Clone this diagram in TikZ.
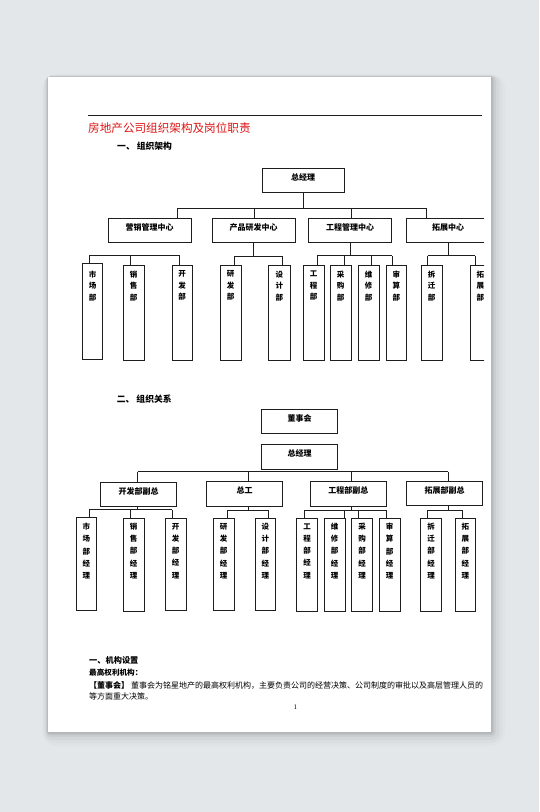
\documentclass[tikz,border=0pt]{standalone}
\usepackage{fontspec}
\setmainfont{Liberation Serif}
\newfontfamily\cjk{Noto Sans CJK SC}
\usetikzlibrary{calc}
\definecolor{bgc}{RGB}{228,231,234}
\definecolor{ttl}{RGB}{222,20,20}
\definecolor{ln}{RGB}{30,30,30}
\tikzset{
  box/.style={draw=ln, line width=0.8pt, inner sep=0pt, fill=white},
  lbl/.style={font=\cjk\bfseries\fontsize{8}{9}\selectfont, inner sep=0pt},
  vlbl/.style={font=\cjk\bfseries\fontsize{7.5}{11.5}\selectfont, align=center, inner sep=0pt},
  vlblb/.style={font=\cjk\bfseries\fontsize{7.5}{12.2}\selectfont, align=center, inner sep=0pt},
  conn/.style={draw=ln, line width=0.8pt},
  para/.style={anchor=west, inner sep=0pt, font=\cjk\fontsize{8}{9}\selectfont},
}
\newcommand\mkbox[5]{\node[box, minimum width={(#4-#2)*1pt}, minimum height={(#5-#3)*1pt}] (#1) at ({(#2+#4)/2},{(#3+#5)/2}) {};}
\newcommand\vdown[2]{\draw[conn] (#1) -- (#1 |- #2.north);}
\begin{document}
\begin{tikzpicture}[x=1pt,y=-1pt]
\useasboundingbox (0,0) rectangle (539,812);
\fill[bgc] (0,0) rectangle (539,812);
% page shadow
\foreach \s/\o in {14/0.015,11/0.02,8/0.03,5/0.04,3/0.05,1.5/0.06}{
  \fill[black, opacity=\o, rounded corners=\s] ({48-\s*0.4},{77-\s*0.2}) rectangle ({491+\s},{732+\s});
}
\fill[white] (48,77) rectangle (491,732);
\begin{scope}
\clip (48,77) rectangle (484,732);
% header
\draw[ln, line width=0.8pt] (88,115.7) -- (482,115.7);
\node[anchor=west, inner sep=0pt, text=ttl, font=\cjk\fontsize{11.6}{12}\selectfont] (title) at (88,128.5) {房地产公司组织架构及岗位职责};
\node[anchor=west, inner sep=0pt, font=\cjk\bfseries\fontsize{8.8}{10}\selectfont] (sec1) at (117,146) {一、\hspace{2pt}组织架构};

% ---------- section 1 ----------
\mkbox{zjlA}{262}{168.3}{344.3}{192.3}
\node[lbl] at ([yshift=3pt]zjlA.center) {总经理};
\mkbox{yx}{108.3}{218.3}{191}{242.3}
\mkbox{cp}{212.3}{218.3}{295}{242.3}
\mkbox{gc}{308.7}{218.3}{391.7}{242.3}
\mkbox{tz}{406.7}{218.3}{489.7}{242.3}
\node[lbl] at ([yshift=3pt]yx.center) {营销管理中心};
\node[lbl] at ([yshift=3pt]cp.center) {产品研发中心};
\node[lbl] at ([yshift=3pt]gc.center) {工程管理中心};
\node[lbl] at ([yshift=3pt]tz.center) {拓展中心};

\coordinate (a1) at (177.7,208.3);
\coordinate (a2) at (254.3,208.3);
\coordinate (a3) at (351.7,208.3);
\coordinate (a4) at (426.7,208.3);
\draw[conn] (zjlA.south) -- (zjlA.south |- a1);
\draw[conn] (a1) -- (a4);
\vdown{a1}{yx}
\vdown{a2}{cp}
\vdown{a3}{gc}
\vdown{a4}{tz}

\mkbox{scb}{82.3}{263.3}{102.7}{359.5}
\mkbox{xsb}{123.3}{265}{144}{360}
\mkbox{kfb}{172}{265}{192.3}{360}
\mkbox{yfb}{220}{265}{241.3}{360}
\mkbox{sjb}{268.7}{265}{290}{360}
\mkbox{gcb}{303.3}{265}{324}{360}
\mkbox{cgb}{330.3}{265}{351}{360}
\mkbox{wxb}{358}{265}{379}{360}
\mkbox{ssb}{386}{265}{406.7}{360}
\mkbox{cqb}{421}{265}{442.3}{360}
\mkbox{tzb}{470}{265}{490.5}{360}
\coordinate (ty1) at (0,285.8);
\node[vlbl] at (scb.center |- ty1) {市\\场\\部};
\node[vlbl] at (xsb.center |- ty1) {销\\售\\部};
\node[vlbl] at (kfb.center |- ty1) {开\\发\\部};
\node[vlbl] at (yfb.center |- ty1) {研\\发\\部};
\node[vlbl] at (sjb.center |- ty1) {设\\计\\部};
\node[vlbl] at (gcb.center |- ty1) {工\\程\\部};
\node[vlbl] at (cgb.center |- ty1) {采\\购\\部};
\node[vlbl] at (wxb.center |- ty1) {维\\修\\部};
\node[vlbl] at (ssb.center |- ty1) {审\\算\\部};
\node[vlbl] at (cqb.center |- ty1) {拆\\迁\\部};
\node[vlbl] at (tzb.center |- ty1) {拓\\展\\部};

% group 1 (no link from 营销管理中心)
\coordinate (b1) at (89,255);
\coordinate (b2) at (130.3,255);
\coordinate (b3) at (179,255);
\draw[conn] (b1) -- (b3);
\vdown{b1}{scb}
\vdown{b2}{xsb}
\vdown{b3}{kfb}
% group 2
\coordinate (c1) at (234.3,256.3);
\coordinate (c2) at (282.7,256.3);
\draw[conn] (cp.south) -- (cp.south |- c1);
\draw[conn] (c1) -- (c2);
\vdown{c1}{yfb}
\vdown{c2}{sjb}
% group 3
\coordinate (d1) at (317.3,255.5);
\coordinate (d2) at (344.3,255.5);
\coordinate (d3) at (371.7,255.5);
\coordinate (d4) at (392.3,255.5);
\draw[conn] (gc.south) -- (gc.south |- d1);
\draw[conn] (d1) -- (d4);
\vdown{d1}{gcb}
\vdown{d2}{cgb}
\vdown{d3}{wxb}
\vdown{d4}{ssb}
% group 4
\coordinate (e1) at (427.7,255.5);
\coordinate (e2) at (475,255.5);
\draw[conn] (tz.south) -- (tz.south |- e1);
\draw[conn] (e1) -- (e2);
\vdown{e1}{cqb}
\vdown{e2}{tzb}

% ---------- section 2 ----------
\node[anchor=west, inner sep=0pt, font=\cjk\bfseries\fontsize{8.8}{10}\selectfont] (sec2) at (116.7,399) {二、\hspace{2pt}组织关系};
\mkbox{dsh}{261.7}{409}{337.7}{433.3}
\mkbox{zjlB}{261.7}{444.3}{337.7}{469.3}
\node[lbl] at ([yshift=3pt]dsh.center) {董事会};
\node[lbl] at ([yshift=3pt]zjlB.center) {总经理};

\mkbox{kffz}{100.7}{482.3}{176.7}{506}
\mkbox{zg}{206.7}{481.7}{282.3}{506}
\mkbox{gcfz}{310.7}{481.7}{386}{506}
\mkbox{tzfz}{406.7}{481}{482.7}{505.3}
\node[lbl] at ([yshift=3pt]kffz.center) {开发部副总};
\node[lbl] at ([yshift=3pt]zg.center) {总工};
\node[lbl] at ([yshift=3pt]gcfz.center) {工程部副总};
\node[lbl] at ([yshift=3pt]tzfz.center) {拓展部副总};

\coordinate (f1) at (137.7,471.7);
\coordinate (f2) at (248.3,471.7);
\coordinate (f3) at (351.7,471.7);
\coordinate (f4) at (448.3,471.7);
\draw[conn] (f1) -- (f4);
\vdown{f1}{kffz}
\vdown{f2}{zg}
\vdown{f3}{gcfz}
\vdown{f4}{tzfz}

\mkbox{scj}{76}{517.7}{96.7}{610.5}
\mkbox{xsj}{123.3}{518.3}{144}{611.7}
\mkbox{kfj}{165.3}{518}{186}{610.5}
\mkbox{yfj}{213.3}{518}{234}{610}
\mkbox{sjj}{255}{518}{275.7}{610.5}
\mkbox{gcj}{296.7}{518}{317.3}{611.7}
\mkbox{wxj}{324.3}{518}{345}{611.7}
\mkbox{cgj}{351.7}{518}{372.3}{611.7}
\mkbox{ssj}{379.3}{518}{400}{611.7}
\mkbox{cqj}{420.7}{518}{441.7}{611.7}
\mkbox{tzj}{455}{518}{475.7}{611.7}
\coordinate (ty2) at (0,551);
\node[vlblb] at (scj.center |- ty2) {市\\场\\部\\经\\理};
\node[vlblb] at (xsj.center |- ty2) {销\\售\\部\\经\\理};
\node[vlblb] at (kfj.center |- ty2) {开\\发\\部\\经\\理};
\node[vlblb] at (yfj.center |- ty2) {研\\发\\部\\经\\理};
\node[vlblb] at (sjj.center |- ty2) {设\\计\\部\\经\\理};
\node[vlblb] at (gcj.center |- ty2) {工\\程\\部\\经\\理};
\node[vlblb] at (wxj.center |- ty2) {维\\修\\部\\经\\理};
\node[vlblb] at (cgj.center |- ty2) {采\\购\\部\\经\\理};
\node[vlblb] at (ssj.center |- ty2) {审\\算\\部\\经\\理};
\node[vlblb] at (cqj.center |- ty2) {拆\\迁\\部\\经\\理};
\node[vlblb] at (tzj.center |- ty2) {拓\\展\\部\\经\\理};

% group 1
\coordinate (h1) at (89.3,509.5);
\coordinate (h2) at (130.3,509.5);
\coordinate (h3) at (172,509.5);
\draw[conn] (f1 |- kffz.south) -- (f1 |- h1);
\draw[conn] (h1) -- (h3);
\vdown{h1}{scj}
\vdown{h2}{xsj}
\vdown{h3}{kfj}
% group 2
\coordinate (i1) at (227.7,510);
\coordinate (i2) at (268.7,510);
\draw[conn] (f2 |- zg.south) -- (f2 |- i1);
\draw[conn] (i1) -- (i2);
\vdown{i1}{yfj}
\vdown{i2}{sjj}
% group 3
\coordinate (j1) at (304,510);
\coordinate (j2) at (344.3,510);
\coordinate (j3) at (358.3,510);
\coordinate (j4) at (386.7,510);
\draw[conn] (f3 |- gcfz.south) -- (f3 |- j1);
\draw[conn] (j1) -- (j4);
\vdown{j1}{gcj}
\vdown{j2}{wxj}
\vdown{j3}{cgj}
\vdown{j4}{ssj}
% group 4
\coordinate (k1) at (427.7,510);
\coordinate (k2) at (462.7,510);
\draw[conn] (f4 |- tzfz.south) -- (f4 |- k1);
\draw[conn] (k1) -- (k2);
\vdown{k1}{cqj}
\vdown{k2}{tzj}

% ---------- text ----------
\node[para, font=\cjk\bfseries\fontsize{8.2}{9}\selectfont] (t1) at (89,660.7) {一、机构设置};
\node[para, font=\cjk\bfseries\fontsize{7.6}{9}\selectfont] (t2) at (89,672.7) {最高权利机构：};
\node[para] (t3) at (89,685.7) {{\bfseries 【董事会】}\hspace{2pt}董事会为铭星地产的最高权利机构，主要负责公司的经营决策、公司制度的审批以及高层管理人员的};
\node[para] (t4) at (89,696.7) {等方面重大决策。};
\node[inner sep=0pt, font=\fontsize{7}{8}\selectfont] (pg) at (295.3,706.7) {1};
\end{scope}
\end{tikzpicture}
\end{document}
